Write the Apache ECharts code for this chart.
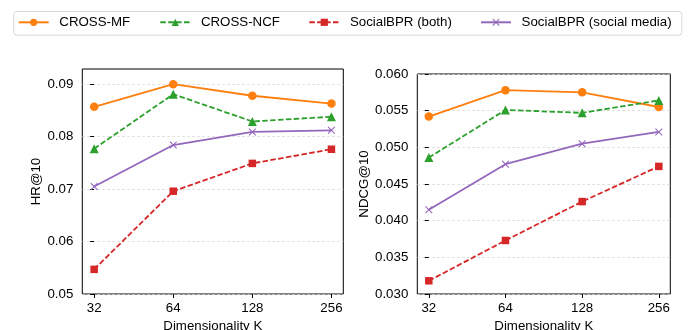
<!DOCTYPE html>
<html>
<head>
<meta charset="utf-8">
<script src="https://cdn.jsdelivr.net/npm/echarts@6/dist/echarts.min.js"></script>
<style>
html,body{margin:0;padding:0;background:#fff;}
#chart{width:691px;height:330px;}
</style>
</head>
<body>
<div id="chart"></div>
<script>
// ---- data ----
var categories = ['32', '64', '128', '256'];
var seriesNames = ['CROSS-MF', 'CROSS-NCF', 'SocialBPR (both)', 'SocialBPR (social media)'];

var hrCrossMF   = [0.0857, 0.0900, 0.0878, 0.0863];
var hrCrossNCF  = [0.0777, 0.0881, 0.0829, 0.0838];
var hrBoth      = [0.0547, 0.0696, 0.0749, 0.0776];
var hrSocial    = [0.0705, 0.0784, 0.0809, 0.0812];

var ndcgCrossMF  = [0.0542, 0.0578, 0.0575, 0.0555];
var ndcgCrossNCF = [0.0486, 0.0551, 0.0547, 0.0564];
var ndcgBoth     = [0.0318, 0.0373, 0.0426, 0.0474];
var ndcgSocial   = [0.0415, 0.0477, 0.0505, 0.0521];

var hrTicks   = [0.05, 0.06, 0.07, 0.08, 0.09];
var ndcgTicks = [0.030, 0.035, 0.040, 0.045, 0.050, 0.055, 0.060];

// ---- styles ----
var FONT = '"Liberation Sans", Arial, sans-serif';
var FS = 13.3;
var colors = ['#ff7f0e', '#2ca02c', '#d62728', '#9467bd'];
var xPath = 'path://M0,1L1,0L5,4L9,0L10,1L6,5L10,9L9,10L5,6L1,10L0,9L4,5Z';
var symbols = ['circle', 'triangle', 'rect', xPath];
var symbolSizes = [8.5, 9, 7.5, 7.5];
var lineTypes = ['solid', [5.5, 2.4], [5.5, 2.4], 'solid'];

function pairs(vals) {
  return vals.map(function (v, i) { return [i, v]; });
}

function makeSeries(valsList, axisIdx) {
  return valsList.map(function (vals, k) {
    return {
      name: seriesNames[k],
      type: 'line',
      xAxisIndex: axisIdx,
      yAxisIndex: axisIdx,
      data: pairs(vals),
      symbol: symbols[k],
      symbolSize: symbolSizes[k],
      showSymbol: true,
      z: 2 + k,
      lineStyle: { color: colors[k], width: 1.8, type: lineTypes[k] },
      itemStyle: { color: colors[k], borderWidth: 0 },
      emphasis: { disabled: true },
      animation: false
    };
  });
}

function xAxis(gridIdx) {
  return {
    type: 'value', gridIndex: gridIdx,
    min: -0.15, max: 3.15,
    name: 'Dimensionality K', nameLocation: 'middle', nameGap: 21,
    nameTextStyle: { fontFamily: FONT, fontSize: FS, color: '#000' },
    axisLine: { show: false },
    axisTick: { show: true, inside: false, length: 4, customValues: [0, 1, 2, 3],
                lineStyle: { color: '#000', width: 1 } },
    axisLabel: { customValues: [0, 1, 2, 3], margin: 8,
                 fontFamily: FONT, fontSize: FS, color: '#000',
                 formatter: function (v) { return categories[Math.round(v)]; } },
    splitLine: { show: false }
  };
}

function yAxis(gridIdx, name, mn, mx, ticks, dec, gap) {
  return {
    type: 'value', gridIndex: gridIdx,
    min: mn, max: mx,
    name: name, nameLocation: 'middle', nameGap: gap, nameRotate: 90,
    nameTextStyle: { fontFamily: FONT, fontSize: FS, color: '#000' },
    axisLine: { show: false },
    axisTick: { show: true, inside: false, length: 4, customValues: ticks,
                lineStyle: { color: '#000', width: 1 } },
    axisLabel: { customValues: ticks, margin: 9, fontFamily: FONT, fontSize: FS, color: '#000',
                 formatter: function (v) { return v.toFixed(dec); } },
    splitLine: { show: true, lineStyle: { color: '#d4d4d4', width: 0.8, type: [2.5, 2.5] } }
  };
}

var legendLefts = [17.7, 159.3, 308.3, 480];
var legends = seriesNames.map(function (n, k) {
  return {
    data: [n], left: legendLefts[k], top: 14.3, padding: 0,
    itemWidth: 30, itemHeight: 9,
    textStyle: { fontFamily: FONT, fontSize: FS, color: '#000', lineHeight: 16, padding: [0, 0, 0, 5.6] },
    selectedMode: false
  };
});

var chart = echarts.init(document.getElementById('chart'), null, { renderer: 'canvas' });
chart.setOption({
  animation: false,
  backgroundColor: '#fff',
  graphic: [{
    type: 'rect', left: 13.3, top: 11, z: -1,
    shape: { width: 668, height: 23.7, r: 3 },
    style: { fill: '#fff', stroke: '#d6d6d6', lineWidth: 1 }
  }],
  legend: legends,
  grid: [
    { left: 82.3, top: 69, width: 261, height: 225, show: true, borderColor: '#000', borderWidth: 1,
      backgroundColor: 'transparent', containLabel: false, outerBoundsMode: 'none' },
    { left: 417.3, top: 74, width: 253, height: 220, show: true, borderColor: '#000', borderWidth: 1,
      backgroundColor: 'transparent', containLabel: false, outerBoundsMode: 'none' }
  ],
  xAxis: [xAxis(0), xAxis(1)],
  yAxis: [
    yAxis(0, 'HR@10', 0.05, 0.0929, hrTicks, 2, 39),
    yAxis(1, 'NDCG@10', 0.030, 0.060, ndcgTicks, 3, 45)
  ],
  series: makeSeries([hrCrossMF, hrCrossNCF, hrBoth, hrSocial], 0)
    .concat(makeSeries([ndcgCrossMF, ndcgCrossNCF, ndcgBoth, ndcgSocial], 1))
});
</script>
</body>
</html>
